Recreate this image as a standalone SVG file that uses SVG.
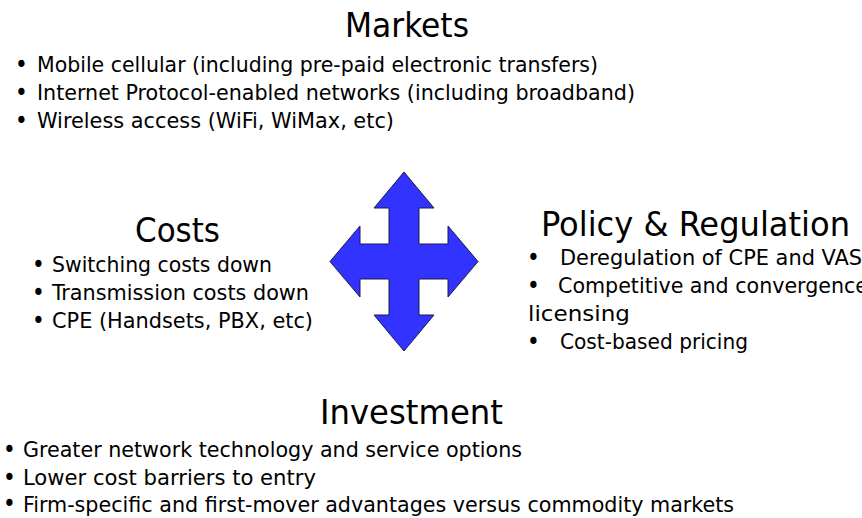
<svg xmlns="http://www.w3.org/2000/svg" width="862" height="518" viewBox="0 0 862 518">
<style>
text{font-family:"DejaVu Sans Condensed","DejaVu Sans",Verdana,sans-serif;font-stretch:condensed;fill:#000}
.t{font-size:33px}
.b{font-size:21px}
.d{font-size:24px}
.arrow{fill:#3333ff;stroke:#1a1a4a;stroke-width:1}
</style>
<rect width="862" height="518" fill="#fff"/>
<g id="markets">
<text class="t" x="345" y="37" textLength="124" lengthAdjust="spacingAndGlyphs">Markets</text>
<text class="d" x="15" y="73">•</text>
<text class="b" x="37" y="72" textLength="561" lengthAdjust="spacingAndGlyphs">Mobile cellular (including pre-paid electronic transfers)</text>
<text class="d" x="15" y="101">•</text>
<text class="b" x="37" y="100" textLength="598" lengthAdjust="spacingAndGlyphs">Internet Protocol-enabled networks (including broadband)</text>
<text class="d" x="15" y="129">•</text>
<text class="b" x="37" y="128" textLength="357" lengthAdjust="spacingAndGlyphs">Wireless access (WiFi, WiMax, etc)</text>
</g>
<g id="costs">
<text class="t" x="135" y="242" textLength="85" lengthAdjust="spacingAndGlyphs">Costs</text>
<text class="d" x="32" y="273">•</text>
<text class="b" x="52" y="272" textLength="220" lengthAdjust="spacingAndGlyphs">Switching costs down</text>
<text class="d" x="32" y="301">•</text>
<text class="b" x="52" y="300" textLength="257" lengthAdjust="spacingAndGlyphs">Transmission costs down</text>
<text class="d" x="32" y="329">•</text>
<text class="b" x="52" y="328" textLength="261" lengthAdjust="spacingAndGlyphs">CPE (Handsets, PBX, etc)</text>
</g>
<g id="policy">
<text class="t" x="541" y="236" textLength="309" lengthAdjust="spacingAndGlyphs">Policy &amp; Regulation</text>
<text class="d" x="527" y="266">•</text>
<text class="b" x="560" y="265" textLength="302" lengthAdjust="spacingAndGlyphs">Deregulation of CPE and VAS</text>
<text class="d" x="527" y="294">•</text>
<text class="b" x="558" y="293" textLength="310" lengthAdjust="spacingAndGlyphs">Competitive and convergence</text>
<text class="b" x="528" y="321" textLength="102" lengthAdjust="spacingAndGlyphs">licensing</text>
<text class="d" x="527" y="350">•</text>
<text class="b" x="560" y="349" textLength="188" lengthAdjust="spacingAndGlyphs">Cost-based pricing</text>
</g>
<g id="investment">
<text class="t" x="320" y="424" textLength="183" lengthAdjust="spacingAndGlyphs">Investment</text>
<text class="d" x="3" y="458">•</text>
<text class="b" x="23" y="457" textLength="499" lengthAdjust="spacingAndGlyphs">Greater network technology and service options</text>
<text class="d" x="3" y="486">•</text>
<text class="b" x="23" y="485" textLength="293" lengthAdjust="spacingAndGlyphs">Lower cost barriers to entry</text>
<text class="d" x="3" y="512">•</text>
<text class="b" x="23" y="512" textLength="711" lengthAdjust="spacingAndGlyphs">Firm-specific and first-mover advantages versus commodity markets</text>
</g>
<g id="connectors">
<polygon class="arrow" points="404,172 434,208 419,208 419,244 448,244 448,226 478,261.5 448,297 448,279 419,279 419,315 434,315 404,351 374,315 389,315 389,279 360,279 360,297 330,261.5 360,226 360,244 389,244 389,208 374,208"/>
</g>
</svg>
